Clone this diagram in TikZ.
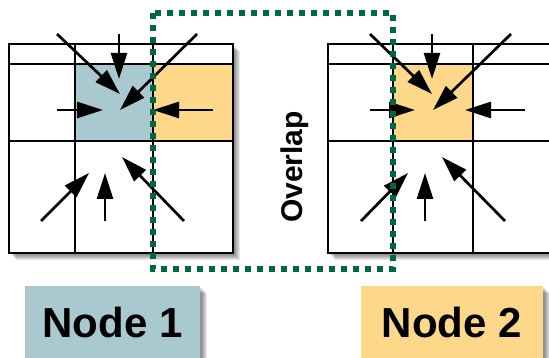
\documentclass[tikz,border=0pt]{standalone}
\usepackage{fontspec}
\setmainfont{Liberation Sans}
\usetikzlibrary{arrows.meta}
\definecolor{nodeblue}{RGB}{169,200,208}
\definecolor{nodeorange}{RGB}{254,216,138}
\definecolor{ovgreen}{RGB}{0,104,64}
\tikzset{
  gridline/.style={line width=2.7pt, line cap=rect},
  flow/.style={line width=2.7pt, -{Triangle[length=26pt,width=16pt]}},
  shadowlayer/.style={fill=black, opacity=0.09},
  labelbox/.style={minimum height=72pt, inner sep=0pt, font=\bfseries\fontsize{42}{42}\selectfont},
  overlapbox/.style={draw=ovgreen, line width=6pt, dash pattern=on 6pt off 6pt},
}
\begin{document}
\begin{tikzpicture}[x=1pt,y=-1pt]
\useasboundingbox (0,0) rectangle (549,358);
% ---------- soft shadows ----------
\foreach \d in {2,3,4,5,6,7} {
  \fill[shadowlayer] (9+\d,44+\d) rectangle (233+\d,253+\d);
  \fill[shadowlayer] (328+\d,44+\d) rectangle (553+\d,253+\d);
  \fill[shadowlayer] (25+\d,286+\d) rectangle (200+\d,363);
  \fill[shadowlayer] (361+\d,286+\d) rectangle (543+\d,363);
}
% ---------- left grid ----------
\fill[white] (9,44) rectangle (233,253);
\fill[nodeblue] (75,64) rectangle (153,141);
\fill[nodeorange] (153,64) rectangle (233,141);
\draw[gridline] (9,44) rectangle (233,253);
\draw[gridline] (9,64) -- (233,64);
\draw[gridline] (9,141) -- (233,141);
\draw[gridline] (75,44) -- (75,253);
\draw[gridline] (153,44) -- (153,253);
% arrow end points, left grid
\coordinate (la1s) at (57,34);  \coordinate (la1e) at (120,94);
\coordinate (la2s) at (119,34); \coordinate (la2e) at (119,79);
\coordinate (la3s) at (197,34); \coordinate (la3e) at (120,110);
\coordinate (la4s) at (57,110); \coordinate (la4e) at (103,110);
\coordinate (la5s) at (213,110);\coordinate (la5e) at (153,110);
\coordinate (la6s) at (41,221); \coordinate (la6e) at (89,173);
\coordinate (la7s) at (105,221);\coordinate (la7e) at (105,173);
\coordinate (la8s) at (184,221);\coordinate (la8e) at (122,157);
\foreach \i in {1,...,8} \draw[flow] (la\i s) -- (la\i e);
% ---------- right grid ----------
\fill[white] (328,44) rectangle (553,253);
\fill[nodeorange] (393,64) rectangle (473,141);
\draw[gridline] (328,44) rectangle (553,253);
\draw[gridline] (328,64) -- (553,64);
\draw[gridline] (328,141) -- (553,141);
\draw[gridline] (393,44) -- (393,253);
\draw[gridline] (473,44) -- (473,253);
\coordinate (ra1s) at (370,34); \coordinate (ra1e) at (432,94);
\coordinate (ra2s) at (432,34); \coordinate (ra2e) at (432,79);
\coordinate (ra3s) at (511,34); \coordinate (ra3e) at (433,110);
\coordinate (ra4s) at (370,110);\coordinate (ra4e) at (415,110);
\coordinate (ra5s) at (525,110);\coordinate (ra5e) at (465,110);
\coordinate (ra6s) at (361,221);\coordinate (ra6e) at (408,173);
\coordinate (ra7s) at (425,221);\coordinate (ra7e) at (425,173);
\coordinate (ra8s) at (505,221);\coordinate (ra8e) at (442,157);
\foreach \i in {1,...,8} \draw[flow] (ra\i s) -- (ra\i e);
% ---------- overlap ----------
\draw[overlapbox] (153,13) rectangle (393,269);
\node[rotate=90, font=\bfseries\fontsize{30}{30}\selectfont] (overlap) at (295,167) {Overlap};
% ---------- labels ----------
\node[labelbox, fill=nodeblue, minimum width=175pt] (node1) at (112.5,322) {Node 1};
\node[labelbox, fill=nodeorange, minimum width=182pt] (node2) at (452,322) {Node 2};
\end{tikzpicture}
\end{document}
